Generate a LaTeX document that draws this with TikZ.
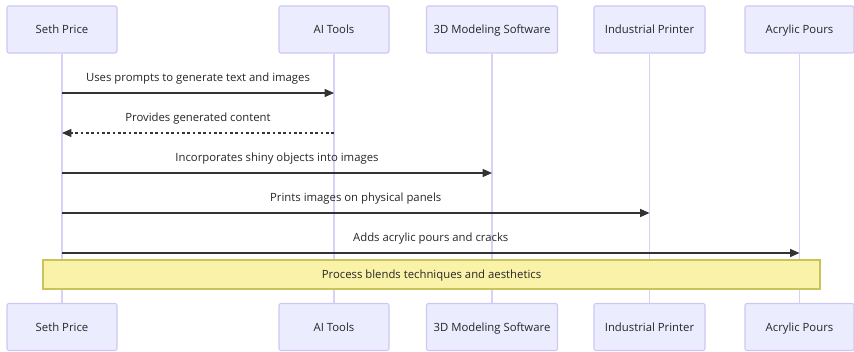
\documentclass[tikz,border=0pt]{standalone}
\usepackage{fontspec}
\setmainfont{Open Sans}
\usetikzlibrary{arrows.meta,calc}
\definecolor{actorfill}{HTML}{ECECFF}
\definecolor{actorline}{HTML}{D0C6F4}
\definecolor{lifeline}{HTML}{D8D0F6}
\definecolor{msgline}{HTML}{333333}
\definecolor{notefill}{HTML}{FAF2A8}
\definecolor{noteline}{HTML}{C8C45A}
\tikzset{
  actor/.style={draw=actorline, fill=actorfill, line width=0.8pt, rounded corners=1.5pt,
    minimum width=#1*0.75pt, minimum height=47*0.75pt, inner sep=0pt,
    text depth=0pt, font=\fontsize{8.5}{10}\selectfont, text=black!85},
  lifeln/.style={draw=lifeline, line width=0.9pt},
  msg/.style={draw=msgline, line width=0.9pt, -{Triangle[length=7pt,width=6pt]}},
  reply/.style={msg, dash pattern=on 2pt off 2pt},
  msglabel/.style={font=\fontsize{8.5}{10}\selectfont, text=black!85, inner sep=0pt, text depth=0pt},
  notebox/.style={draw=noteline, fill=notefill, line width=0.8pt, inner sep=0pt,
    text depth=0pt, font=\fontsize{8.5}{10}\selectfont, text=black!85}
}
\begin{document}
\begin{tikzpicture}[x=0.75pt, y=-0.75pt]
  \useasboundingbox (0,0) rectangle (854,352);
  % participants, top row
  \node[actor=110] (sethT) at (62,29.5) {Seth Price};
  \node[actor=110] (aiT) at (334,29.5) {AI Tools};
  \node[actor=131] (modT) at (492,29.5) {3D Modeling Software};
  \node[actor=111] (prnT) at (649.5,29.5) {Industrial Printer};
  \node[actor=109] (acrT) at (799.5,29.5) {Acrylic Pours};
  % participants, bottom row
  \node[actor=110] (sethB) at (62,327) {Seth Price};
  \node[actor=110] (aiB) at (334,327) {AI Tools};
  \node[actor=131] (modB) at (492,327) {3D Modeling Software};
  \node[actor=111] (prnB) at (649.5,327) {Industrial Printer};
  \node[actor=109] (acrB) at (799.5,327) {Acrylic Pours};
  % lifelines
  \foreach \p in {seth,ai,mod,prn,acr}
    \draw[lifeln] (\p T.south) -- (\p B.north);
  % message anchors on the lifelines
  \coordinate (s1) at (sethT.south |- 0,93);
  \coordinate (a1) at (aiT.south |- 0,93);
  \coordinate (s2) at (sethT.south |- 0,133);
  \coordinate (a2) at (aiT.south |- 0,133);
  \coordinate (s3) at (sethT.south |- 0,173);
  \coordinate (m3) at (modT.south |- 0,173);
  \coordinate (s4) at (sethT.south |- 0,213);
  \coordinate (p4) at (prnT.south |- 0,213);
  \coordinate (s5) at (sethT.south |- 0,253);
  \coordinate (c5) at (acrT.south |- 0,253);
  % messages
  \draw[msg] (s1) -- (a1);
  \node[msglabel] (l1) at ($(s1)!0.5!(a1)+(0,-16)$) {Uses prompts to generate text and images};
  \draw[reply] (a2) -- (s2);
  \node[msglabel] (l2) at ($(s2)!0.5!(a2)+(0,-16)$) {Provides generated content};
  \draw[msg] (s3) -- (m3);
  \node[msglabel] (l3) at ($(s3)!0.5!(m3)+(0,-16)$) {Incorporates shiny objects into images};
  \draw[msg] (s4) -- (p4);
  \node[msglabel] (l4) at ($(s4)!0.5!(p4)+(0,-16)$) {Prints images on physical panels};
  \draw[msg] (s5) -- (c5);
  \node[msglabel] (l5) at ($(s5)!0.5!(c5)+(0,-16)$) {Adds acrylic pours and cracks};
  % note spanning all participants
  \node[notebox, minimum width=777*0.75pt, minimum height=29*0.75pt] (note) at (431.5,274.5) {Process blends techniques and aesthetics};
\end{tikzpicture}
\end{document}
